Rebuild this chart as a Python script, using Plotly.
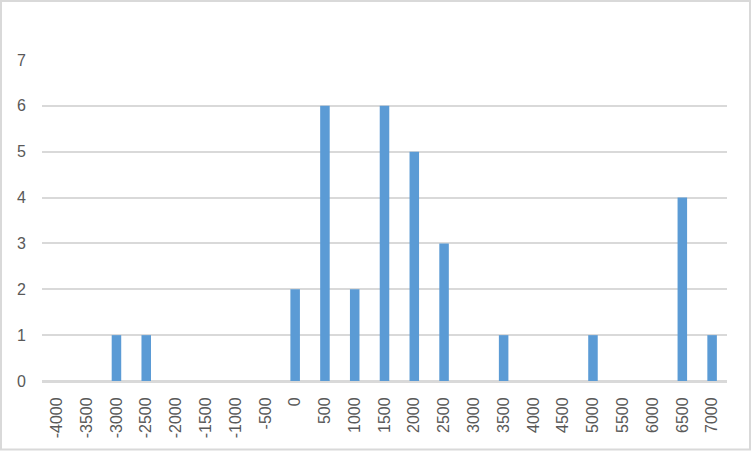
import plotly.graph_objects as go

categories = [str(v) for v in range(-4000, 7001, 500)]
value_map = {"-3000": 1, "-2500": 1, "0": 2, "500": 6, "1000": 2, "1500": 6,
             "2000": 5, "2500": 3, "3500": 1, "5000": 1, "6500": 4, "7000": 1}
values = [value_map.get(c, 0) for c in categories]
y_ticks = [0, 1, 2, 3, 4, 5, 6, 7]

fig = go.Figure(go.Bar(x=categories, y=values, marker_color="#5b9bd5",
                       marker_line_width=0))

W, H = 752, 452
L, R, T, B = 42, 25, 60, 71
pw, ph = W - L - R, H - T - B


def px_x(p):
    return (p - L) / pw


def px_y(p):
    return 1 - (p - T) / ph


fig.update_layout(
    width=W, height=H,
    margin=dict(l=L, r=R, t=T, b=B, autoexpand=False),
    plot_bgcolor="white", paper_bgcolor="white",
    bargap=0.68,
    showlegend=False,
    font=dict(family="Liberation Sans, Arial", size=16, color="#595959"),
    xaxis=dict(type="category", tickangle=-90, showgrid=False, automargin=False,
               showline=True, linecolor="#d9d9d9", linewidth=2,
               ticks="", ticklabelstandoff=8, tickfont=dict(size=16, color="#595959")),
    yaxis=dict(range=[0, 7], tickvals=y_ticks, showgrid=True, gridcolor="#d9d9d9",
               gridwidth=2, zeroline=True, zerolinecolor="#d9d9d9", zerolinewidth=2,
               showline=False, automargin=False,
               ticks="", ticklabelstandoff=15, tickfont=dict(size=16, color="#595959")),
    shapes=[dict(type="rect", xref="paper", yref="paper",
                 x0=px_x(1), x1=px_x(750),
                 y0=px_y(449.5), y1=px_y(1),
                 line=dict(color="#d9d9d9", width=2), fillcolor="rgba(0,0,0,0)",
                 layer="below")],
)

fig.write_html("out.html", config={"displayModeBar": False},
               post_script="document.body.style.margin='0';")
